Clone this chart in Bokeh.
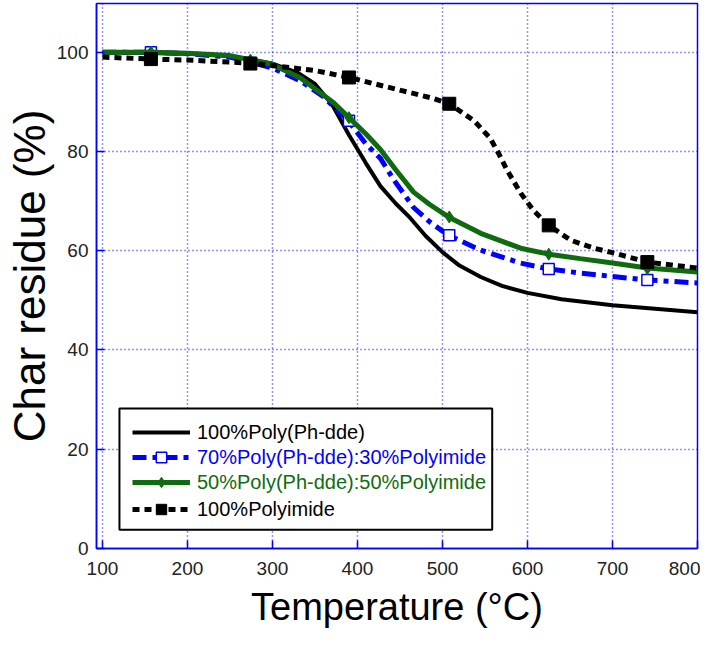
from bokeh.plotting import figure
from bokeh.models import Range1d, FixedTicker, Legend, LegendItem, BoxAnnotation
from bokeh.embed import file_html
from bokeh.resources import INLINE

# ---- data ----
temp_pdde = [100, 200, 250, 300, 330, 350, 370, 390, 410, 427, 445, 462, 480, 500, 520, 545, 570, 600, 640, 700, 750, 800]
res_pdde = [100, 99.7, 99.2, 97.7, 95.8, 93.6, 89.5, 83.3, 77.6, 73.0, 69.5, 66.6, 63.0, 59.7, 57.0, 54.7, 52.9, 51.5, 50.2, 49.0, 48.3, 47.6]

temp_70 = [100, 157, 200, 250, 274, 300, 333, 360, 389, 410, 427, 443, 466, 485, 507, 545, 592, 625, 662, 700, 741, 800]
res_70 = [100, 100, 99.7, 99.0, 98.0, 96.8, 94.2, 91.0, 86.2, 81.5, 78.6, 74.2, 68.7, 65.8, 63.1, 60.1, 57.5, 56.3, 55.5, 54.8, 54.1, 53.5]

temp_50 = [100, 157, 200, 250, 274, 300, 333, 372, 390, 410, 427, 445, 466, 485, 507, 545, 592, 625, 662, 700, 741, 800]
res_50 = [100, 100, 99.8, 99.3, 98.5, 97.5, 94.8, 89.8, 86.8, 83.5, 80.4, 76.3, 71.8, 69.3, 66.8, 63.5, 60.5, 59.3, 58.4, 57.5, 56.5, 55.7]

temp_pi = [100, 157, 200, 274, 300, 350, 390, 451, 489, 508, 537, 556, 566, 576, 592, 607, 625, 651, 678, 700, 741, 800]
res_pi = [99.0, 98.6, 98.4, 97.8, 97.3, 96.3, 94.9, 92.3, 90.7, 89.6, 86.2, 82.7, 79.6, 76.2, 71.6, 68.1, 65.1, 62.1, 60.5, 59.6, 57.7, 56.5]

mk_temp = [157, 274, 390, 508, 625, 741]
mk_70 = [100, 97.8, 86.2, 63.1, 56.3, 54.1]
mk_50 = [100, 98.4, 86.8, 66.8, 59.3, 56.4]
mk_pi = [98.6, 97.7, 94.9, 89.6, 65.1, 57.7]

x_ticks = [100, 200, 300, 400, 500, 600, 700, 800]
y_ticks = [0, 20, 40, 60, 80, 100]

labels = ["100%Poly(Ph-dde)", "70%Poly(Ph-dde):30%Polyimide",
          "50%Poly(Ph-dde):50%Polyimide", "100%Polyimide"]

BLUE = "#0000ff"
GREEN = "#106b10"
SANS = "Liberation Sans"

p = figure(width=700, height=630, output_backend="svg", toolbar_location=None,
           x_range=Range1d(93, 800), y_range=Range1d(0, 109.8),
           min_border_left=96, min_border_right=3, min_border_top=3, min_border_bottom=81)
p.background_fill_color = "white"
p.outline_line_color = BLUE
p.outline_line_width = 1.5

for ax, ticks in ((p.xaxis, x_ticks), (p.yaxis, y_ticks)):
    ax.ticker = FixedTicker(ticks=ticks)
    ax.axis_line_color = BLUE
    ax.axis_line_width = 1.5
    ax.major_tick_line_color = BLUE
    ax.major_tick_line_width = 1.5
    ax.major_tick_in = 8
    ax.major_tick_out = 0
    ax.minor_tick_in = 0
    ax.minor_tick_out = 0
    ax.major_label_text_font = SANS
    ax.major_label_text_font_size = "19px"
    ax.major_label_text_color = "#222222"
    ax.axis_label_text_font_style = "normal"
    ax.axis_label_text_color = "black"

p.xaxis.major_label_standoff = 13
p.xaxis.axis_label_standoff = 8
p.yaxis.major_label_standoff = 8
p.yaxis.axis_label_standoff = 0

p.xaxis.axis_label = "Temperature (°C)"
p.xaxis.axis_label_text_font = SANS
p.xaxis.axis_label_text_font_size = "38px"
p.yaxis.axis_label = "Char residue (%)"
p.yaxis.axis_label_text_font = SANS
p.yaxis.axis_label_text_font_size = "44px"

p.grid.grid_line_color = BLUE
p.grid.grid_line_dash = "1 3"
p.grid.grid_line_width = 1.5
p.grid.grid_line_alpha = 0.85

# ---- lines ----
l1 = p.line(temp_pdde, res_pdde, line_color="black", line_width=4)
l2 = p.line(temp_70, res_70, line_color=BLUE, line_width=5, line_dash="14 6 5 6")
m2 = p.scatter(mk_temp, mk_70, marker="square", size=11, line_color=BLUE, line_width=1.5, fill_color="white")
l3 = p.line(temp_50, res_50, line_color=GREEN, line_width=5)
m3 = p.scatter(mk_temp, mk_50, marker="diamond", size=12, line_color=GREEN, fill_color=GREEN)
l4 = p.line(temp_pi, res_pi, line_color="black", line_width=5, line_dash="7 5")
m4 = p.scatter(mk_temp, mk_pi, marker="square", size=13, line_color="black", fill_color="black")

# ---- legend ----
box = BoxAnnotation(left=120, right=558.5, bottom=3.8, top=28.2, fill_color="white", fill_alpha=1,
                    line_color="black", line_width=2, line_alpha=1)
p.add_layout(box)

rend = [[l1], [l2, m2], [l3, m3], [l4, m4]]
cols = ["black", BLUE, GREEN, "black"]
centers = [116, 91, 66, 39]
for lab, rs, col, c in zip(labels, rend, cols, centers):
    leg = Legend(items=[LegendItem(label=lab, renderers=rs)], location=(36, c - 13),
                 padding=0, margin=0, spacing=0, border_line_alpha=0, background_fill_alpha=0,
                 glyph_width=58, glyph_height=26, label_height=26, label_standoff=7,
                 label_text_font=SANS, label_text_font_size="20px", label_text_color=col)
    p.add_layout(leg)

open("out.html", "w").write(file_html(p, INLINE))
